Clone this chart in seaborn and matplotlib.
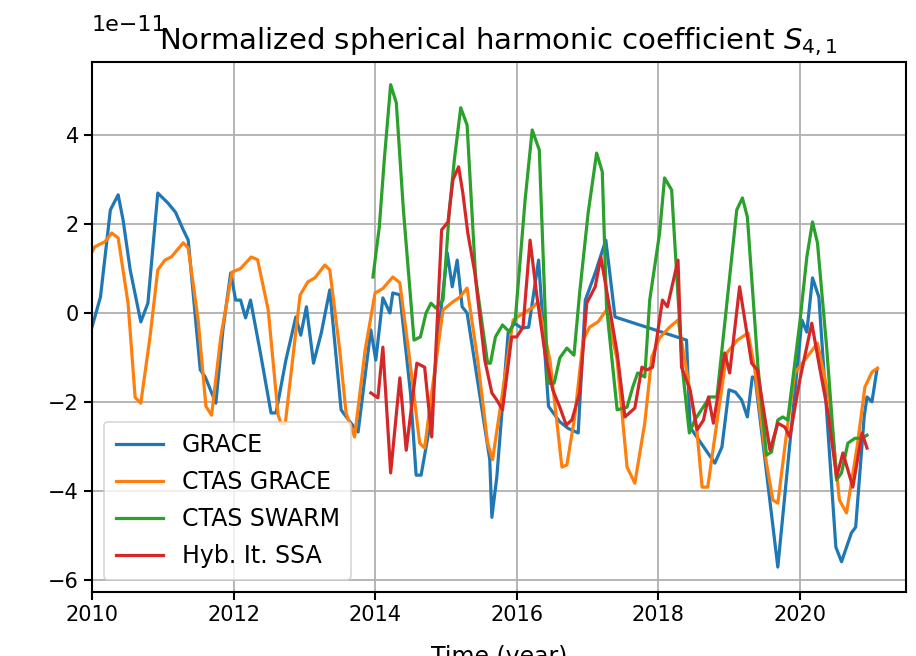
import numpy as np
import pandas as pd
import matplotlib
matplotlib.use("Agg")
import matplotlib.pyplot as plt
import seaborn as sns

# ---- data (values in units of 1e-11) ----
t_grace = [2010.0, 2010.12, 2010.26, 2010.37, 2010.44, 2010.54, 2010.69, 2010.79, 2010.93, 2011.07,
           2011.18, 2011.29, 2011.36, 2011.53, 2011.60, 2011.75, 2011.85, 2011.96, 2012.03, 2012.10,
           2012.17, 2012.24, 2012.38, 2012.53, 2012.60, 2012.74, 2012.88, 2012.95, 2013.03, 2013.13,
           2013.24, 2013.36, 2013.52, 2013.66, 2013.76, 2013.94, 2014.01, 2014.11, 2014.21, 2014.25,
           2014.35, 2014.50, 2014.58, 2014.65, 2014.77, 2014.92, 2015.02, 2015.09, 2015.16, 2015.23,
           2015.30, 2015.62, 2015.65, 2015.72, 2015.88, 2015.97, 2016.07, 2016.17, 2016.31, 2016.45,
           2016.61, 2016.73, 2016.87, 2016.97, 2017.11, 2017.26, 2017.39, 2018.40, 2018.45, 2018.80,
           2018.90, 2019.0, 2019.09, 2019.18, 2019.26, 2019.33, 2019.37, 2019.69, 2020.03, 2020.10,
           2020.18, 2020.27, 2020.51, 2020.59, 2020.73, 2020.79, 2020.91, 2020.95, 2021.02, 2021.09]
v_grace = [-0.32, 0.36, 2.32, 2.66, 2.09, 0.97, -0.2, 0.22, 2.7, 2.48,
           2.27, 1.87, 1.64, -1.28, -1.44, -2.03, -0.38, 0.9, 0.29, 0.29,
           -0.11, 0.29, -0.9, -2.25, -2.25, -1.06, -0.09, -0.5, 0.14, -1.13,
           -0.45, 0.52, -2.18, -2.48, -2.68, -0.38, -1.06, 0.34, 0.0, 0.45,
           0.41, -1.8, -3.65, -3.65, -2.57, -0.09, 1.35, 0.59, 1.19, 0.14,
           0.0, -3.3, -4.6, -3.69, -0.45, -0.23, -0.34, -0.32, 1.19, -2.1,
           -2.45, -2.6, -2.7, 0.29, 0.9, 1.64, -0.09, -0.61, -2.57, -3.38,
           -3.02, -1.73, -1.78, -1.96, -2.34, -1.44, -1.46, -5.72, -0.16, -0.43,
           0.79, 0.36, -5.27, -5.6, -4.95, -4.82, -2.34, -1.89, -2.0, -1.28]

t_ctas_grace = [2010.0, 2010.04, 2010.18, 2010.28, 2010.37, 2010.51, 2010.61, 2010.69, 2010.82, 2010.93,
                2011.03, 2011.12, 2011.29, 2011.36, 2011.50, 2011.61, 2011.69, 2011.82, 2011.98, 2012.10,
                2012.25, 2012.34, 2012.49, 2012.63, 2012.67, 2012.73, 2012.94, 2013.05, 2013.15, 2013.29,
                2013.36, 2013.50, 2013.59, 2013.71, 2013.86, 2014.0, 2014.11, 2014.25, 2014.35, 2014.49,
                2014.63, 2014.70, 2014.80, 2014.96, 2015.10, 2015.20, 2015.30, 2015.45, 2015.59, 2015.66,
                2015.80, 2015.95, 2016.05, 2016.23, 2016.30, 2016.47, 2016.64, 2016.71, 2016.82, 2016.94,
                2017.03, 2017.15, 2017.27, 2017.42, 2017.56, 2017.67, 2017.81, 2017.91, 2018.02, 2018.16,
                2018.28, 2018.55, 2018.62, 2018.70, 2018.84, 2018.97, 2019.12, 2019.27, 2019.36, 2019.53,
                2019.62, 2019.69, 2019.82, 2019.93, 2020.07, 2020.18, 2020.25, 2020.42, 2020.56, 2020.66,
                2020.81, 2020.92, 2021.02, 2021.10]
v_ctas_grace = [1.37, 1.49, 1.6, 1.8, 1.69, 0.22, -1.9, -2.03, -0.54, 0.97,
                1.19, 1.26, 1.58, 1.46, -0.16, -2.1, -2.3, -0.54, 0.92, 1.0,
                1.26, 1.2, 0.07, -2.3, -2.48, -2.5, 0.4, 0.7, 0.79, 1.08,
                0.97, -0.83, -2.25, -2.79, -0.83, 0.45, 0.55, 0.81, 0.68, -1.06,
                -2.93, -3.04, -1.8, 0.07, 0.25, 0.36, 0.56, -1.06, -2.93, -3.3,
                -1.8, -0.16, -0.05, 0.13, 0.25, -1.06, -3.47, -3.42, -2.34, -0.61,
                -0.32, -0.2, 0.07, -1.06, -3.47, -3.83, -2.48, -0.99, -0.56, -0.32,
                -0.16, -2.7, -3.92, -3.92, -2.34, -0.9, -0.61, -0.45, -1.22, -3.38,
                -4.21, -4.28, -2.63, -1.35, -1.06, -0.83, -0.68, -1.96, -4.21, -4.5,
                -3.02, -1.67, -1.33, -1.24]

t_ctas_swarm = [2013.97, 2014.06, 2014.13, 2014.22, 2014.30, 2014.40, 2014.55, 2014.64, 2014.72, 2014.79,
                2014.86, 2014.96, 2015.05, 2015.12, 2015.21, 2015.30, 2015.42, 2015.59, 2015.63, 2015.70,
                2015.80, 2015.90, 2015.98, 2016.12, 2016.22, 2016.32, 2016.44, 2016.53, 2016.61, 2016.71,
                2016.81, 2016.89, 2017.01, 2017.13, 2017.21, 2017.27, 2017.42, 2017.56, 2017.64, 2017.71,
                2017.81, 2017.88, 2018.02, 2018.09, 2018.19, 2018.26, 2018.34, 2018.44, 2018.52, 2018.73,
                2018.83, 2019.11, 2019.19, 2019.26, 2019.41, 2019.53, 2019.60, 2019.69, 2019.76, 2019.83,
                2020.0, 2020.10, 2020.18, 2020.25, 2020.38, 2020.52, 2020.59, 2020.68, 2020.78, 2020.88,
                2020.95]
v_ctas_swarm = [0.81, 1.94, 3.45, 5.14, 4.73, 2.32, -0.61, -0.54, 0.0, 0.22,
                0.11, 0.29, 2.32, 3.45, 4.62, 4.23, 0.81, -1.13, -1.13, -0.54,
                -0.27, -0.43, -0.16, 2.55, 4.12, 3.67, -1.58, -1.58, -1.01, -0.79,
                -0.95, 0.45, 2.25, 3.6, 3.18, 0.14, -2.18, -2.12, -1.67, -1.35,
                -1.44, 0.29, 1.8, 3.04, 2.77, 0.9, -1.22, -2.7, -2.4, -1.89,
                -1.89, 2.32, 2.59, 2.16, -1.22, -3.2, -3.13, -2.41, -2.34, -2.41,
                -0.23, 1.26, 2.05, 1.58, -0.77, -3.76, -3.6, -2.93, -2.82, -2.82,
                -2.75]

t_hyb_ssa = [2013.94, 2014.04, 2014.11, 2014.22, 2014.35, 2014.44, 2014.59, 2014.70, 2014.80, 2014.94,
             2015.03, 2015.10, 2015.18, 2015.24, 2015.31, 2015.41, 2015.55, 2015.65, 2015.72, 2015.80,
             2015.93, 2016.0, 2016.09, 2016.19, 2016.28, 2016.40, 2016.51, 2016.61, 2016.70, 2016.78,
             2016.89, 2016.99, 2017.11, 2017.19, 2017.27, 2017.42, 2017.53, 2017.67, 2017.77, 2017.84,
             2017.92, 2018.06, 2018.13, 2018.28, 2018.33, 2018.45, 2018.55, 2018.64, 2018.71, 2018.78,
             2018.94, 2019.01, 2019.15, 2019.32, 2019.40, 2019.58, 2019.69, 2019.79, 2019.86, 2020.0,
             2020.17, 2020.28, 2020.40, 2020.52, 2020.61, 2020.75, 2020.88, 2020.95]
v_hyb_ssa = [-1.8, -1.91, -0.77, -3.6, -1.46, -3.09, -1.13, -1.22, -2.79, 1.87,
             2.05, 3.0, 3.29, 2.7, 1.8, 0.9, -1.06, -1.8, -1.96, -2.18,
             -0.54, -0.54, -0.32, 1.64, 0.45, -0.9, -1.73, -2.12, -2.52, -2.41,
             -1.8, 0.22, 0.59, 1.26, 0.52, -0.9, -2.34, -2.14, -1.22, -1.28,
             -1.22, 0.29, 0.14, 1.19, -1.22, -1.73, -2.63, -2.41, -1.89, -2.48,
             -0.9, -1.35, 0.59, -1.13, -1.28, -3.09, -2.48, -2.57, -2.79, -1.51,
             -0.23, -1.22, -2.25, -3.69, -3.15, -3.92, -2.7, -3.04]

series = [("GRACE", t_grace, v_grace),
          ("CTAS GRACE", t_ctas_grace, v_ctas_grace),
          ("CTAS SWARM", t_ctas_swarm, v_ctas_swarm),
          ("Hyb. It. SSA", t_hyb_ssa, v_hyb_ssa)]
colors = sns.color_palette("tab10", 4)

plt.rcParams["font.family"] = ["DejaVu Sans"]
fig = plt.figure(figsize=(9.16, 6.56), dpi=100)
ax = fig.add_axes([0.1004, 0.0976, 0.8886, 0.8079])

for (name, t, v), c in zip(series, colors):
    df = pd.DataFrame({"t": t, "v": np.array(v) * 1e-11})
    sns.lineplot(data=df, x="t", y="v", ax=ax, color=c, label=name,
                 linewidth=2.3, sort=False, estimator=None)

ax.set_xlim(2010, 2021.5)
ax.set_ylim(-6.28e-11, 5.65e-11)
ax.set_xticks([2010, 2012, 2014, 2016, 2018, 2020])
ax.grid(True, color="#b0b0b0", linewidth=1.3)
ax.set_axisbelow(True)
for s in ax.spines.values():
    s.set_linewidth(1.5)
ax.tick_params(labelsize=15, width=1.5, length=6)
# scale factor shown above the axes, like matplotlib's offset text
ax.yaxis.get_offset_text().set_visible(False)
ax.annotate("1e\u221211", xy=(0, 1), xycoords="axes fraction",
            xytext=(0, 22), textcoords="offset points",
            fontsize=16, ha="left", va="baseline")
ax.set_title(r"Normalized spherical harmonic coefficient $S_{4,1}$", fontsize=21, pad=9)
ax.set_xlabel("Time (year)", fontsize=17, labelpad=14)
ax.set_ylabel("")
leg = ax.legend(loc="lower left", fontsize=17, framealpha=0.8, borderpad=0.5,
                labelspacing=0.55)
leg.get_frame().set_linewidth(1.2)
for line in leg.get_lines():
    line.set_linewidth(2.3)

fig.savefig("out.png", dpi=100)
